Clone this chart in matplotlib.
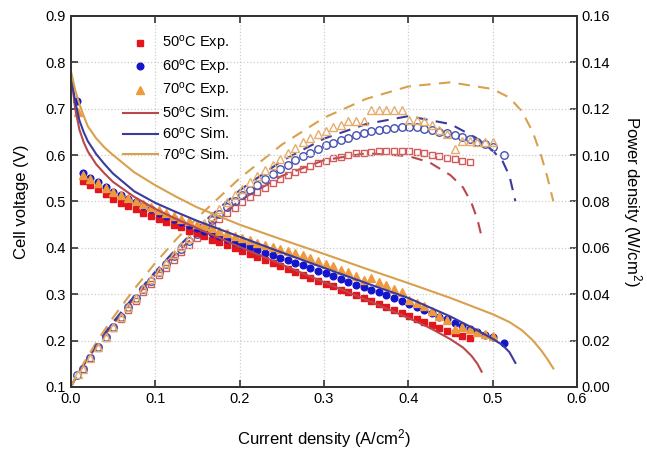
import numpy as np
import matplotlib
matplotlib.use("Agg")
import matplotlib.pyplot as plt

plt.rcParams['font.family'] = ['Liberation Sans', 'DejaVu Sans']
plt.rcParams['mathtext.fontset'] = 'custom'
plt.rcParams['mathtext.rm'] = 'Liberation Sans'
plt.rcParams['mathtext.it'] = 'Liberation Sans:italic'

# dados experimentais (corrente A/cm2, tensao V)
i_exp50 = [0.014, 0.023, 0.032, 0.041, 0.050, 0.059, 0.068, 0.077, 0.086, 0.095,
           0.104, 0.113, 0.122, 0.131, 0.140, 0.149, 0.158, 0.167, 0.176, 0.185,
           0.194, 0.203, 0.212, 0.221, 0.230, 0.239, 0.248, 0.257, 0.266, 0.275,
           0.284, 0.293, 0.302, 0.311, 0.320, 0.329, 0.338, 0.347, 0.356, 0.365,
           0.374, 0.383, 0.392, 0.401, 0.410, 0.419, 0.428, 0.437, 0.446, 0.455,
           0.464, 0.473]
v_exp50 = [0.544, 0.536, 0.527, 0.516, 0.505, 0.497, 0.490, 0.483, 0.476, 0.469,
           0.463, 0.456, 0.450, 0.444, 0.437, 0.431, 0.425, 0.418, 0.412, 0.406,
           0.399, 0.393, 0.387, 0.380, 0.374, 0.368, 0.361, 0.355, 0.348, 0.342,
           0.336, 0.329, 0.323, 0.317, 0.310, 0.304, 0.298, 0.291, 0.285, 0.279,
           0.272, 0.266, 0.260, 0.254, 0.247, 0.241, 0.234, 0.228, 0.221, 0.216,
           0.210, 0.205]

i_exp60 = [0.007, 0.014, 0.023, 0.032, 0.041, 0.050, 0.059, 0.068, 0.077, 0.086,
           0.095, 0.104, 0.113, 0.122, 0.131, 0.140, 0.149, 0.158, 0.167, 0.176,
           0.185, 0.194, 0.203, 0.212, 0.221, 0.230, 0.239, 0.248, 0.257, 0.266,
           0.275, 0.284, 0.293, 0.302, 0.311, 0.320, 0.329, 0.338, 0.347, 0.356,
           0.365, 0.374, 0.383, 0.392, 0.401, 0.410, 0.419, 0.428, 0.437, 0.446,
           0.455, 0.464, 0.473, 0.482, 0.491, 0.500, 0.513]
v_exp60 = [0.717, 0.561, 0.551, 0.541, 0.531, 0.521, 0.513, 0.505, 0.498, 0.490,
           0.483, 0.476, 0.469, 0.462, 0.455, 0.449, 0.443, 0.437, 0.431, 0.425,
           0.419, 0.413, 0.407, 0.401, 0.395, 0.390, 0.384, 0.379, 0.373, 0.368,
           0.362, 0.356, 0.351, 0.345, 0.339, 0.333, 0.327, 0.321, 0.316, 0.310,
           0.304, 0.298, 0.292, 0.286, 0.280, 0.273, 0.266, 0.259, 0.252, 0.246,
           0.239, 0.232, 0.226, 0.219, 0.213, 0.207, 0.195]

i_exp70 = [0.008, 0.014, 0.023, 0.032, 0.041, 0.050, 0.059, 0.068, 0.077, 0.086,
           0.095, 0.104, 0.113, 0.122, 0.131, 0.140, 0.149, 0.158, 0.167, 0.176,
           0.185, 0.194, 0.203, 0.212, 0.221, 0.230, 0.239, 0.248, 0.257, 0.266,
           0.275, 0.284, 0.293, 0.302, 0.311, 0.320, 0.329, 0.338, 0.347, 0.356,
           0.365, 0.374, 0.383, 0.392, 0.401, 0.410, 0.419, 0.428, 0.437, 0.446,
           0.455, 0.464, 0.473, 0.482, 0.491, 0.500]
v_exp70 = [0.693, 0.557, 0.548, 0.539, 0.530, 0.521, 0.514, 0.507, 0.501, 0.494,
           0.488, 0.481, 0.475, 0.469, 0.463, 0.458, 0.452, 0.447, 0.442, 0.437,
           0.431, 0.426, 0.421, 0.416, 0.411, 0.406, 0.401, 0.397, 0.393, 0.388,
           0.384, 0.378, 0.372, 0.366, 0.360, 0.353, 0.349, 0.340, 0.331, 0.335,
           0.327, 0.319, 0.312, 0.305, 0.287, 0.281, 0.274, 0.264, 0.254, 0.245,
           0.226, 0.229, 0.224, 0.219, 0.215, 0.211]

# curvas simuladas
i_sim50 = [0, 0.002, 0.005, 0.01, 0.015, 0.02, 0.03, 0.04, 0.05, 0.075, 0.1, 0.125,
           0.15, 0.2, 0.25, 0.3, 0.35, 0.4, 0.425, 0.45, 0.465, 0.475, 0.482, 0.487]
v_sim50 = [0.775, 0.745, 0.700, 0.655, 0.628, 0.608, 0.580, 0.560, 0.542, 0.510, 0.484, 0.462,
           0.442, 0.402, 0.364, 0.326, 0.288, 0.249, 0.228, 0.203, 0.185, 0.167, 0.150, 0.133]

i_sim60 = [0, 0.002, 0.005, 0.01, 0.015, 0.02, 0.03, 0.04, 0.05, 0.075, 0.1, 0.125,
           0.15, 0.2, 0.25, 0.3, 0.35, 0.4, 0.45, 0.48, 0.5, 0.512, 0.52, 0.527]
v_sim60 = [0.775, 0.750, 0.715, 0.675, 0.650, 0.630, 0.602, 0.580, 0.560, 0.522, 0.497, 0.477,
           0.458, 0.424, 0.390, 0.357, 0.324, 0.292, 0.252, 0.224, 0.204, 0.190, 0.175, 0.152]

i_sim70 = [0, 0.002, 0.005, 0.01, 0.015, 0.02, 0.03, 0.04, 0.05, 0.075, 0.1, 0.125, 0.15,
           0.2, 0.25, 0.3, 0.35, 0.4, 0.45, 0.5, 0.52, 0.535, 0.548, 0.558, 0.565, 0.572]
v_sim70 = [0.780, 0.765, 0.740, 0.710, 0.685, 0.662, 0.636, 0.616, 0.600, 0.563, 0.535, 0.510, 0.487,
           0.450, 0.418, 0.387, 0.355, 0.324, 0.292, 0.257, 0.240, 0.222, 0.200, 0.178, 0.160, 0.140]

labels_exp = [r'50$^{\rm o}$C Exp.', r'60$^{\rm o}$C Exp.', r'70$^{\rm o}$C Exp.']
labels_sim = [r'50$^{\rm o}$C Sim.', r'60$^{\rm o}$C Sim.', r'70$^{\rm o}$C Sim.']

fig = plt.figure(figsize=(6.47, 4.49), dpi=100)
ax = fig.add_axes([0.1097, 0.1381, 0.782, 0.8263])
ax2 = ax.twinx()

# cores
c_exp = ['#e3161c', '#1414cc', '#ee9a3c']
c_sim = ['#b8484c', '#3b3b9e', '#d9a04e']
c_pwr = ['#d45a5a', '#4550b0', '#e6ad6a']

exp_i = [i_exp50, i_exp60, i_exp70]
exp_v = [v_exp50, v_exp60, v_exp70]
sim_i = [i_sim50, i_sim60, i_sim70]
sim_v = [v_sim50, v_sim60, v_sim70]
mk = ['s', 'o', '^']
ms = [4.3, 4.8, 5.3]

# densidade de potencia (eixo direito)
for k in range(3):
    ii = np.array(sim_i[k])
    ax2.plot(ii, ii * np.array(sim_v[k]), color=c_sim[k], lw=1.5, dashes=(5.5, 4))
for k in range(3):
    ii = np.array(exp_i[k])
    ax2.plot(ii, ii * np.array(exp_v[k]), ls='none', marker=mk[k], ms=ms[k] + 0.6,
             mfc='none', mec=c_pwr[k], mew=1.0)

# tensao (eixo esquerdo)
for k in range(3):
    ax.plot(exp_i[k], exp_v[k], ls='none', marker=mk[k], ms=ms[k], color=c_exp[k],
            label=labels_exp[k])
for k in range(3):
    ax.plot(sim_i[k], sim_v[k], color=c_sim[k], lw=1.5, label=labels_sim[k])

ax.set_zorder(ax2.get_zorder() + 1)
ax.patch.set_visible(False)

ax.set_xlim(0, 0.6)
ax.set_ylim(0.1, 0.9)
ax2.set_ylim(0, 0.16)
ax.set_xticks([0.0, 0.1, 0.2, 0.3, 0.4, 0.5, 0.6])
ax.set_yticks([0.1, 0.2, 0.3, 0.4, 0.5, 0.6, 0.7, 0.8, 0.9])
ax2.set_yticks([0.0, 0.02, 0.04, 0.06, 0.08, 0.10, 0.12, 0.14, 0.16])
ax.xaxis.set_major_formatter(matplotlib.ticker.FormatStrFormatter('%.1f'))
ax.yaxis.set_major_formatter(matplotlib.ticker.FormatStrFormatter('%.1f'))
ax2.yaxis.set_major_formatter(matplotlib.ticker.FormatStrFormatter('%.2f'))

ax.grid(True, ls=':', color='#cccccc', lw=0.9)
ax.tick_params(direction='in', length=5, width=1.2, labelsize=10.5, top=True, color='#333333')
ax2.tick_params(direction='in', length=5, width=1.2, labelsize=10.5, color='#333333')
for a in (ax, ax2):
    for s in a.spines.values():
        s.set_linewidth(1.4)
        s.set_color('#333333')

ax.set_xlabel('Current density (A/cm$^2$)', fontsize=12, labelpad=15)
ax.set_ylabel('Cell voltage (V)', fontsize=12, labelpad=12)
ax2.set_ylabel('Power density (W/cm$^2$)', fontsize=12, rotation=270, labelpad=24)

ax.legend(loc='upper left', bbox_to_anchor=(0.085, 0.975), frameon=False, fontsize=10.5,
          handlelength=2.4, labelspacing=0.32, handletextpad=0.3, borderaxespad=0.2)

plt.savefig('out.png', dpi=100)
